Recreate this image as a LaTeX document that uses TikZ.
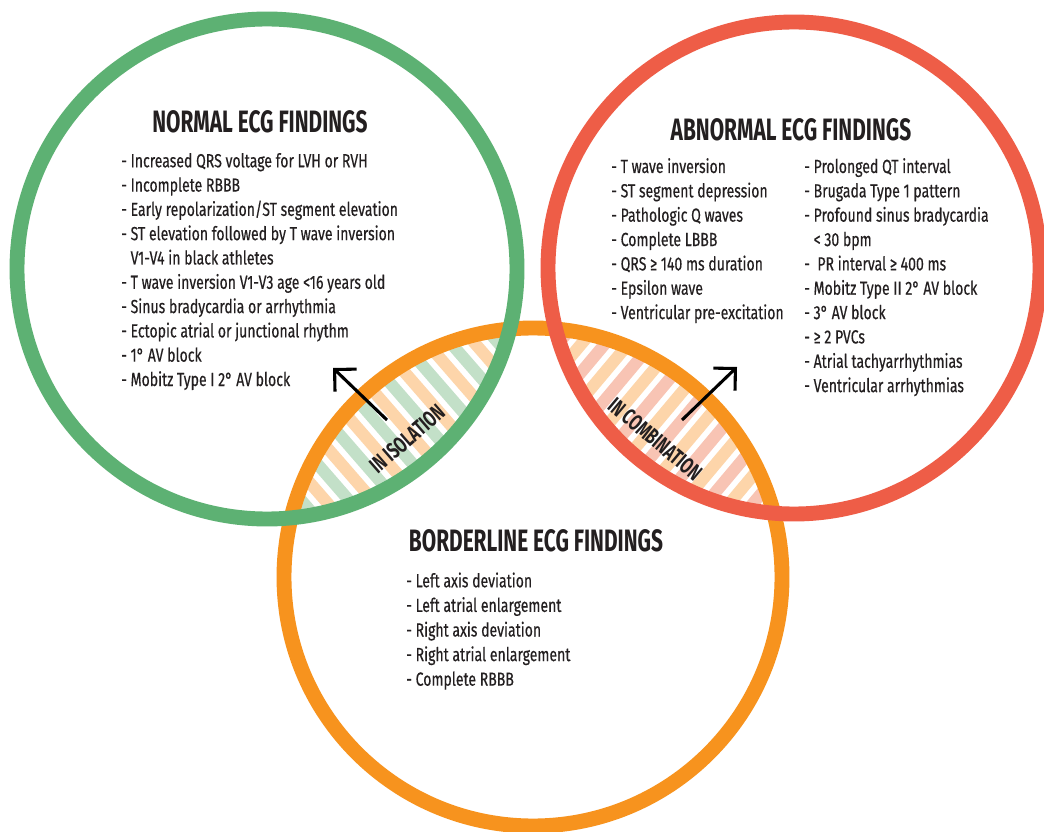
\documentclass[tikz,border=0pt]{standalone}
\usepackage{fontspec}
\setmainfont{Fira Sans}[FakeStretch=0.74, FakeBold=0.4]
\newfontfamily\headfont{Fira Sans}[FakeStretch=0.675]
\usepackage{tikz}
\usetikzlibrary{arrows.meta, positioning}
\definecolor{ringgreen}{HTML}{5DB173}
\definecolor{ringred}{HTML}{EE5D47}
\definecolor{ringorange}{HTML}{F7931E}
\definecolor{stripegreen}{HTML}{C3E0C8}
\definecolor{stripeorange}{HTML}{FDD5AA}
\definecolor{stripered}{HTML}{F8C4B4}
\definecolor{inkdark}{HTML}{231F20}

\tikzset{
  ring/.style={line width=10.6pt},
  heading/.style={inkdark, inner sep=0pt, font=\fontsize{22}{22}\selectfont\headfont\bfseries},
  item/.style={inkdark, anchor=base west, inner sep=0pt, font=\fontsize{13.5}{13.5}\selectfont},
  lenslabel/.style={inkdark, inner sep=0pt, font=\fontsize{16}{16}\selectfont\headfont\bfseries},
  pointer/.style={line width=2.2pt, line join=miter, -{Straight Barb[length=3.9mm, width=7.8mm]}},
}

\begin{document}
\begin{tikzpicture}[x=0.025cm, y=0.025cm]
  \useasboundingbox (0,0) rectangle (1044,831);
  \fill[white] (0,0) rectangle (1044,831);

  % Overlap normal/borderline - stripes
  \begin{scope}
    \clip (267,562) circle[radius=250];
    \clip (533,254) circle[radius=249];
    \begin{scope}[shift={(400,400)}, rotate=41]
      \foreach \s in {-8,...,8} {
        \fill[stripeorange] (36*\s, -200) rectangle (36*\s+12, 200);
        \fill[stripegreen] (36*\s+18, -200) rectangle (36*\s+30, 200);
      }
    \end{scope}
  \end{scope}

  % Overlap abnormal/borderline - stripes
  \begin{scope}
    \clip (794,563) circle[radius=246];
    \clip (533,254) circle[radius=249];
    \begin{scope}[shift={(665,400)}, rotate=-40]
      \foreach \s in {-8,...,8} {
        \fill[stripered] (36*\s, -200) rectangle (36*\s+12, 200);
        \fill[stripeorange] (36*\s+18, -200) rectangle (36*\s+30, 200);
      }
    \end{scope}
  \end{scope}

  % Circles
  \draw[ring, ringorange] (533,254) circle[radius=249];
  \draw[ring, ringgreen] (267,562) circle[radius=250];
  \draw[ring, ringred] (794,563) circle[radius=246];

  % Normal findings
  \node[heading] (normalhead) at (260,709) {NORMAL ECG FINDINGS};
  \foreach \txt [count=\i from 0] in {
      - Increased QRS voltage for LVH or RVH,
      - Incomplete RBBB,
      - Early repolarization/ST segment elevation,
      - ST elevation followed by T wave inversion,
      \phantom{- }V1-V4 in black athletes,
      - T wave inversion V1-V3 age <16 years old,
      - Sinus bradycardia or arrhythmia,
      - Ectopic atrial or junctional rhythm,
      - 1° AV block,
      - Mobitz Type I 2° AV block} {
    \node[item] (normal-\i) at (121, 663.7-24.3*\i) {\txt};
  }

  % Abnormal findings
  \node[heading] (abnormalhead) at (791,701) {ABNORMAL ECG FINDINGS};
  \foreach \txt [count=\i from 0] in {
      - T wave inversion,
      - ST segment depression,
      - Pathologic Q waves,
      - Complete LBBB,
      - QRS ≥ 140 ms duration,
      - Epsilon wave,
      - Ventricular pre-excitation} {
    \node[item] (abnormal-a\i) at (611, 658-24.35*\i) {\txt};
  }
  \foreach \txt [count=\i from 0] in {
      - Prolonged QT interval,
      - Brugada Type 1 pattern,
      - Profound sinus bradycardia,
      \phantom{- }< 30 bpm,
      - \ PR interval ≥ 400 ms,
      - Mobitz Type II 2° AV block,
      - 3° AV block,
      - ≥ 2 PVCs,
      - Atrial tachyarrhythmias,
      - Ventricular arrhythmias} {
    \node[item] (abnormal-b\i) at (804, 658-24.35*\i) {\txt};
  }

  % Borderline findings
  \node[heading] (borderhead) at (536,290) {BORDERLINE ECG FINDINGS};
  \foreach \txt [count=\i from 0] in {
      - Left axis deviation,
      - Left atrial enlargement,
      - Right axis deviation,
      - Right atrial enlargement,
      - Complete RBBB} {
    \node[item] (border-\i) at (406, 243.7-24.6*\i) {\txt};
  }

  % Lens labels and arrows
  \node[lenslabel, rotate=41] (isolation) at (407,392) {IN ISOLATION};
  \node[lenslabel, rotate=-40] (combination) at (655,392) {IN COMBINATION};
  \coordinate (isotail) at (387,411);
  \coordinate (isotip) at (333,463);
  \coordinate (combtail) at (682,411);
  \coordinate (combtip) at (737,464);
  \draw[pointer] (isotail) -- (isotip);
  \draw[pointer] (combtail) -- (combtip);
\end{tikzpicture}
\end{document}
